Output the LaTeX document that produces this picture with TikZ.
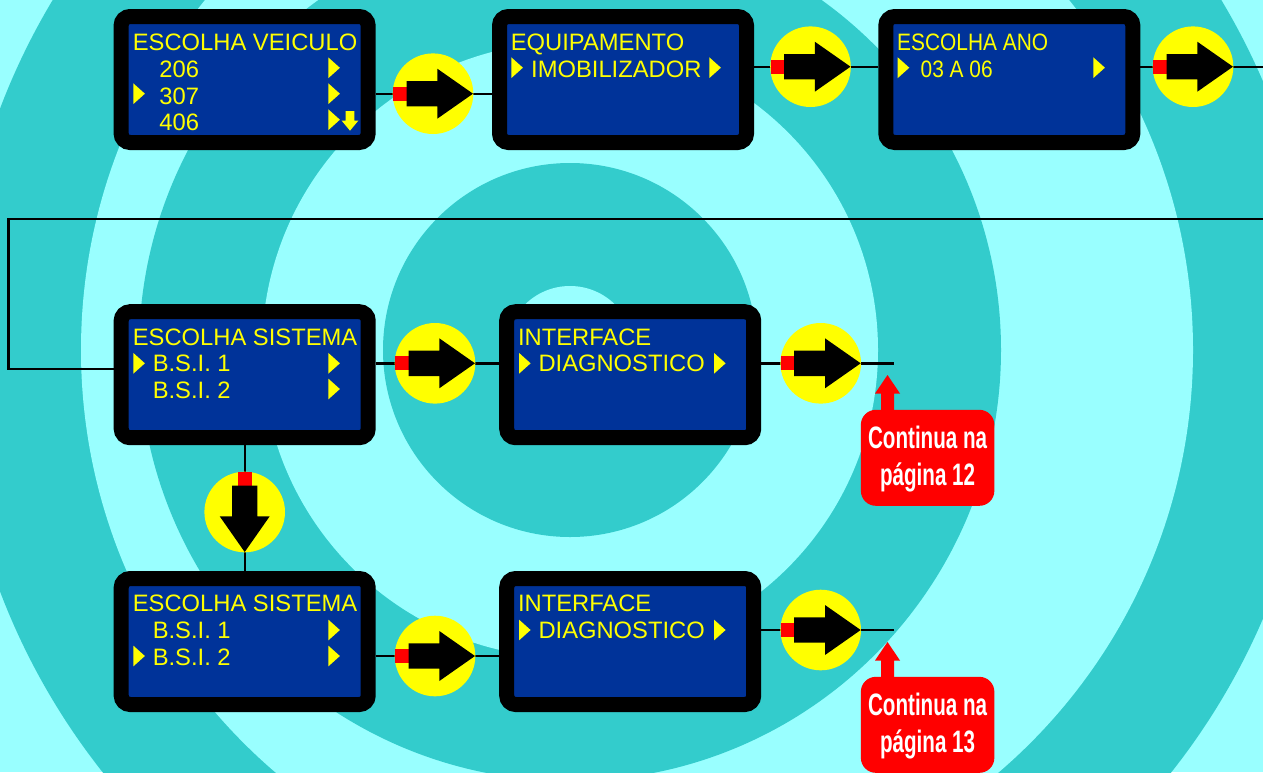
\documentclass[tikz,border=0pt]{standalone}
\usepackage{fontspec}
\setmainfont{Liberation Sans}
\newfontfamily\contfont[FakeStretch=0.665]{Liberation Sans}
\newfontfamily\tightfont[FakeStretch=0.88]{Liberation Sans}
\definecolor{ringteal}{HTML}{33CCCC}
\definecolor{ringlight}{HTML}{99FFFF}
\definecolor{lcdblue}{HTML}{003399}
\definecolor{lcdyellow}{RGB}{255,255,0}
\definecolor{flagred}{RGB}{255,0,0}
\tikzset{
  lcdbox/.style={draw=black,line width=15pt,fill=lcdblue,rounded corners=9pt,minimum width=247pt,minimum height=126pt,inner sep=0pt},
  lbl/.style={anchor=base west,inner sep=0pt,text=lcdyellow,font=\fontsize{23.75}{27}\selectfont},
  tightlbl/.style={lbl,font=\tightfont\fontsize{23.75}{27}\selectfont},
  flowdisc/.style={circle,fill=lcdyellow,minimum size=80.6pt,inner sep=0pt,outer sep=0pt},
  link/.style={draw=black,line width=2.4pt},
  calloutbox/.style={fill=flagred,rounded corners=15pt,minimum width=133.5pt,minimum height=96pt,inner sep=0pt},
  callouttext/.style={inner sep=0pt,align=center,text=white,font=\contfont\bfseries\fontsize{31}{36.5}\selectfont}
}
\newcommand{\trir}[2]{\fill[lcdyellow] (#1,#2-10.4) -- (#1+11.6,#2) -- (#1,#2+10.4) -- cycle;}
\newcommand{\flowright}[3]{%
  \node[flowdisc] (#1) at (#2,#3) {};
  \begin{scope}[shift={(#2,#3)}]
    \fill[flagred] (-40,-7) rectangle (-26.5,7);
    \fill[black] (-26.5,-12.7) -- (4.3,-12.7) -- (4.3,-25) -- (40,0) -- (4.3,25) -- (4.3,12.7) -- (-26.5,12.7) -- cycle;
  \end{scope}}
\newcommand{\flowdown}[3]{%
  \node[flowdisc] (#1) at (#2,#3) {};
  \begin{scope}[shift={(#2,#3)}]
    \fill[flagred] (-7,-40) rectangle (7,-26.5);
    \fill[black] (-12.7,-26.5) -- (-12.7,4.3) -- (-25,4.3) -- (0,40) -- (25,4.3) -- (12.7,4.3) -- (12.7,-26.5) -- cycle;
  \end{scope}}
\newcommand{\callarrow}[1]{\fill[flagred] (881,#1+36) -- (881,#1+18.5) -- (875,#1+18.5) -- (887.5,#1) -- (900,#1+18.5) -- (894,#1+18.5) -- (894,#1+36) -- cycle;}
\begin{document}
\begin{tikzpicture}[x=1pt,y=-1pt]
\useasboundingbox (0,0) rectangle (1263,772);
\begin{scope}
\clip (0,0) rectangle (1263,772);
\fill[ringlight] (0,0) rectangle (1263,772);
\fill[ringteal] (637,350) circle[radius=681];
\fill[ringlight] (637,350) circle[radius=556];
\fill[ringteal] (570,350) circle[radius=431];
\fill[ringlight] (570,350) circle[radius=308];
\fill[ringteal] (570,350) circle[radius=187];
\fill[ringlight] (570,350) circle[radius=64];
\end{scope}

% free ends
\coordinate (e1) at (1263,66.7);
\coordinate (r1) at (1263,219);
\coordinate (r2) at (8.5,219);
\coordinate (r3) at (8.5,369);
\coordinate (e2) at (894,363.3);
\coordinate (e3) at (894,630);

% boxes
\node[lcdbox] (b1) at (244.6,79.5) {};
\node[lcdbox] (b2) at (623,79.5) {};
\node[lcdbox] (b3) at (1009.3,79.5) {};
\node[lcdbox] (b4) at (244.7,374.7) {};
\node[lcdbox] (b5) at (630.2,374.7) {};
\node[lcdbox] (b6) at (244.7,641.5) {};
\node[lcdbox] (b7) at (630.2,641.5) {};

% discs' positions for connectors
\path (433,93.7) coordinate (c1p) (810.5,66.7) coordinate (c2p) (1193,66.7) coordinate (c3p)
      (435,363.3) coordinate (c4p) (820.7,363.3) coordinate (c5p)
      (244.7,512) coordinate (c6p) (435,656) coordinate (c7p) (820.7,630) coordinate (c8p);

% connectors
\draw[link] (b1.east |- c1p) -- (c1p -| b2.west);
\draw[link] (b2.east |- c2p) -- (c2p -| b3.west);
\draw[link] (b3.east |- c3p) -- (e1);
\draw[link] (r1) -- (r2) -- (r3) -- (r3 -| b4.west);
\draw[link] (b4.east |- c4p) -- (c4p -| b5.west);
\draw[link] (b5.east |- c5p) -- (e2);
\draw[link] (b4.south -| c6p) -- (b6.north -| c6p);
\draw[link] (b6.east |- c7p) -- (c7p -| b7.west);
\draw[link] (b7.east |- c8p) -- (e3);

% flow discs
\flowright{c1}{433}{93.7}
\flowright{c2}{810.5}{66.7}
\flowright{c3}{1193}{66.7}
\flowright{c4}{435}{363.3}
\flowright{c5}{820.7}{363.3}
\flowdown{c6}{244.7}{512}
\flowright{c7}{435}{656}
\flowright{c8}{820.7}{630}

% box 1
\node[lbl] (t11) at (132.7,50) {ESCOLHA VEICULO};
\node[lbl] (t12) at (159.2,77.3) {206};
\node[lbl] (t13) at (159.2,104) {307};
\node[lbl] (t14) at (159.2,130) {406};
\trir{328.3}{67.8}\trir{133.3}{93.7}\trir{328.3}{93.7}\trir{328.3}{119.7}
\fill[lcdyellow] (345.7,111) -- (354.3,111) -- (354.3,120.7) -- (358.3,120.7) -- (350,130.7) -- (341.7,120.7) -- (345.7,120.7) -- cycle;
% box 2
\node[lbl] (t21) at (510.7,50) {EQUIPAMENTO};
\node[lbl] (t22) at (531,77.3) {IMOBILIZADOR};
\trir{511.3}{67.7}\trir{709.3}{67.7}
% box 3
\node[tightlbl] (t31) at (897,50) {ESCOLHA ANO};
\node[tightlbl] (t32) at (920.5,77.3) {03 A 06};
\trir{897.7}{67.7}\trir{1093.3}{67.7}
% box 4
\node[lbl] (t41) at (132.7,345) {ESCOLHA SISTEMA};
\node[lbl] (t42) at (152.6,371.7) {B.S.I. 1};
\node[lbl] (t43) at (152.6,398.3) {B.S.I. 2};
\trir{133.3}{363.3}\trir{328.3}{363.3}\trir{328.3}{389}
% box 5
\node[lbl] (t51) at (517.8,345) {INTERFACE};
\node[lbl] (t52) at (538.3,371.7) {DIAGNOSTICO};
\trir{519}{363.3}\trir{714}{363.3}
% box 6
\node[lbl] (t61) at (132.7,611.7) {ESCOLHA SISTEMA};
\node[lbl] (t62) at (152.6,638.3) {B.S.I. 1};
\node[lbl] (t63) at (152.6,665.7) {B.S.I. 2};
\trir{133.3}{656}\trir{328.3}{630}\trir{328.3}{656}
% box 7
\node[lbl] (t71) at (517.8,611.7) {INTERFACE};
\node[lbl] (t72) at (538.3,638.3) {DIAGNOSTICO};
\trir{519}{630}\trir{714}{630}

% callouts
\callarrow{375}
\callarrow{642}
\node[calloutbox] (k1) at (927.6,457.8) {};
\node[callouttext] (k1t) at (927.6,458.8) {Continua na\\página 12};
\node[calloutbox] (k2) at (927.6,724.8) {};
\node[callouttext] (k2t) at (927.6,725.8) {Continua na\\página 13};
\end{tikzpicture}
\end{document}
